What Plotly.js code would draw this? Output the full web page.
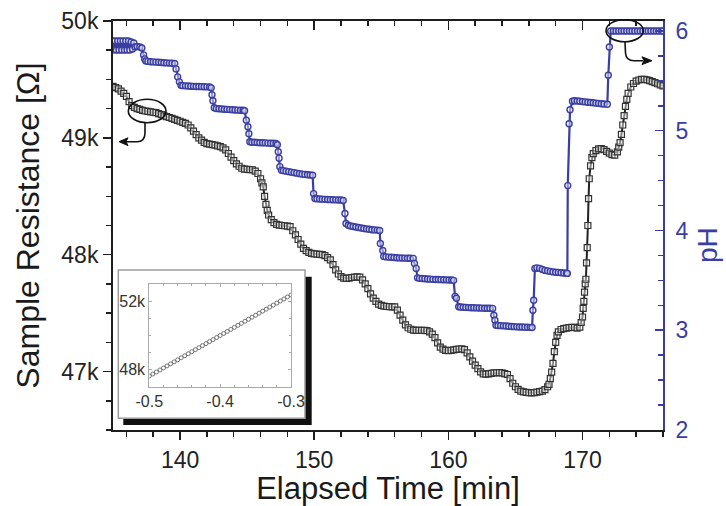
<!DOCTYPE html>
<html>
<head>
<meta charset="utf-8">
<script src="https://cdn.plot.ly/plotly-3.0.1.min.js"></script>
<style>html,body{margin:0;padding:0;background:#fff}#chart{width:726px;height:506px}</style>
</head>
<body>
<div id="chart"></div>
<script>
// ---- Data ----
// Elapsed time [min] for the resistance series
const timeRes = [
135.0,135.2,135.4,135.6,135.8,136.0,136.2,136.4,136.6,136.8,
137.0,137.2,137.4,137.6,137.8,138.0,138.2,138.4,138.6,138.8,
139.0,139.2,139.4,139.6,139.8,140.0,140.2,140.4,140.6,140.8,
141.0,141.2,141.4,141.6,141.8,142.0,142.2,142.4,142.6,142.8,
143.0,143.2,143.4,143.6,143.8,144.0,144.2,144.4,144.6,144.8,
145.0,145.2,145.4,145.6,145.8,146.0,146.1,146.2,146.3,146.4,
146.5,146.6,146.8,147.0,147.2,147.4,147.6,147.8,148.0,148.2,
148.4,148.6,148.8,149.0,149.2,149.4,149.6,149.8,150.0,150.2,
150.4,150.6,150.8,151.0,151.2,151.4,151.6,151.8,152.0,152.2,
152.4,152.6,152.8,153.0,153.2,153.4,153.6,153.8,154.0,154.2,
154.4,154.6,154.8,155.0,155.2,155.4,155.6,155.8,156.0,156.2,
156.4,156.6,156.8,157.0,157.2,157.4,157.6,157.8,158.0,158.2,
158.4,158.6,158.8,159.0,159.2,159.4,159.6,159.8,160.0,160.2,
160.4,160.6,160.8,161.0,161.2,161.4,161.6,161.8,162.0,162.2,
162.4,162.6,162.8,163.0,163.2,163.4,163.6,163.8,164.0,164.2,
164.4,164.6,164.8,165.0,165.2,165.4,165.6,165.8,166.0,166.2,
166.4,166.6,166.8,167.0,167.2,167.4,167.5,167.6,167.7,167.8,
167.9,168.0,168.1,168.2,168.4,168.6,168.8,169.0,169.2,169.4,
169.6,169.8,169.9,170.0,170.05,170.1,170.15,170.2,170.25,170.3,
170.35,170.4,170.45,170.5,170.6,170.7,170.8,171.0,171.2,171.4,
171.6,171.8,172.0,172.2,172.4,172.6,172.7,172.8,172.9,173.0,
173.1,173.2,173.3,173.4,173.6,173.8,174.0,174.2,174.4,174.6,
174.8,175.0,175.2,175.4,175.6,175.8,176.0];
// Sample resistance [Ohm]
const resistance = [
49440,49430,49420,49400,49380,49355,49310,49275,49260,49250,
49243,49236,49230,49226,49222,49219,49216,49208,49198,49188,
49182,49174,49166,49158,49150,49142,49133,49124,49110,49085,
49058,49028,49000,48980,48962,48950,48946,48942,48937,48932,
48925,48915,48898,48866,48835,48805,48778,48757,48740,48733,
48731,48729,48727,48715,48695,48650,48615,48580,48500,48430,
48380,48340,48300,48275,48260,48254,48250,48248,48245,48240,
48205,48170,48130,48090,48055,48035,48020,48012,48008,48005,
48003,48000,47993,47975,47955,47915,47870,47835,47812,47800,
47798,47800,47805,47808,47810,47808,47785,47750,47710,47665,
47628,47600,47578,47566,47560,47557,47555,47554,47553,47525,
47483,47440,47400,47375,47362,47355,47352,47352,47352,47352,
47350,47340,47320,47290,47245,47210,47192,47182,47180,47182,
47185,47190,47193,47195,47188,47160,47125,47090,47055,47025,
46998,46980,46978,46980,46984,46988,46990,46991,46988,46983,
46975,46940,46900,46870,46848,46833,46826,46822,46819,46818,
46820,46824,46828,46832,46845,46870,46891,46940,46995,47070,
47170,47250,47310,47340,47360,47367,47372,47376,47378,47378,
47372,47380,47420,47467,47540,47600,47680,47750,47790,47930,
48060,48250,48480,48650,48760,48830,48865,48890,48905,48908,
48900,48885,48870,48856,48852,48880,48920,48960,49030,49110,
49190,49270,49330,49380,49435,49465,49485,49495,49500,49500,
49496,49490,49482,49472,49463,49453,49445];

// Elapsed time [min] for the pH series
const timePH = [
134.95,135.05,135.15,135.25,135.35,135.45,135.55,135.65,135.75,135.85,
135.95,136.05,136.15,136.25,136.35,136.45,136.55,136.65,136.8,137.0,
137.15,137.28,137.36,137.45,137.6,137.8,138.0,138.2,138.4,138.6,
138.8,139.0,139.2,139.4,139.6,139.7,139.82,139.95,140.07,140.2,
140.4,140.6,140.8,141.0,141.2,141.4,141.6,141.8,142.0,142.2,
142.32,142.38,142.45,142.55,142.7,142.9,143.1,143.3,143.5,143.7,
143.9,144.1,144.3,144.5,144.7,144.81,144.94,145.06,145.13,145.2,
145.35,145.55,145.75,145.95,146.15,146.35,146.55,146.75,146.95,147.15,
147.25,147.32,147.38,147.44,147.56,147.7,147.9,148.1,148.3,148.5,
148.7,148.9,149.1,149.3,149.5,149.7,149.88,149.95,150.05,150.2,
150.4,150.6,150.8,151.0,151.2,151.4,151.6,151.8,152.0,152.16,
152.29,152.37,152.54,152.7,152.9,153.1,153.3,153.5,153.7,153.9,
154.1,154.3,154.5,154.7,154.88,154.93,155.11,155.18,155.35,155.55,
155.75,155.95,156.15,156.35,156.55,156.75,156.95,157.15,157.38,157.47,
157.6,157.7,157.85,158.05,158.25,158.45,158.65,158.85,159.05,159.25,
159.45,159.65,159.85,160.05,160.25,160.39,160.5,160.6,160.77,160.9,
161.1,161.3,161.5,161.7,161.9,162.1,162.3,162.5,162.7,162.9,
163.1,163.3,163.39,163.47,163.55,163.7,163.9,164.1,164.3,164.5,
164.7,164.9,165.1,165.3,165.5,165.7,165.9,166.1,166.24,166.3,
166.36,166.45,166.6,166.8,167.0,167.2,167.4,167.6,167.8,168.0,
168.2,168.4,168.6,168.8,168.87,168.9,169.0,169.07,169.25,169.4,
169.6,169.8,170.0,170.2,170.4,170.6,170.8,171.0,171.2,171.4,
171.6,171.85,171.92,172.0,172.1,172.3,172.5,172.7,172.9,173.1,
173.3,173.5,173.7,173.9,174.1,174.3,174.5,174.7,174.9,175.1,
175.3,175.5,175.7,175.9,176.0];
// pH values
const pHvalues = [
5.90,5.81,5.90,5.81,5.90,5.81,5.90,5.81,5.90,5.81,
5.90,5.81,5.90,5.81,5.89,5.82,5.88,5.84,5.845,5.84,
5.83,5.76,5.72,5.70,5.695,5.692,5.69,5.688,5.686,5.684,
5.682,5.68,5.678,5.676,5.674,5.62,5.54,5.49,5.455,5.452,
5.45,5.448,5.446,5.445,5.444,5.443,5.442,5.441,5.44,5.439,
5.43,5.36,5.30,5.23,5.222,5.22,5.218,5.216,5.214,5.212,
5.21,5.208,5.207,5.206,5.205,5.20,5.105,5.04,4.97,4.89,
4.885,4.884,4.882,4.88,4.879,4.878,4.876,4.875,4.874,4.872,
4.86,4.79,4.725,4.64,4.605,4.60,4.595,4.59,4.585,4.58,
4.575,4.57,4.565,4.562,4.558,4.556,4.554,4.37,4.32,4.318,
4.316,4.314,4.312,4.31,4.309,4.308,4.307,4.306,4.305,4.30,
4.17,4.07,4.053,4.045,4.04,4.035,4.03,4.025,4.02,4.016,
4.012,4.008,4.006,4.004,4.0,3.87,3.80,3.74,3.735,3.733,
3.731,3.729,3.727,3.725,3.724,3.723,3.722,3.721,3.72,3.67,
3.62,3.525,3.52,3.518,3.516,3.514,3.512,3.51,3.509,3.508,
3.507,3.506,3.505,3.504,3.503,3.50,3.34,3.32,3.235,3.233,
3.231,3.229,3.227,3.226,3.225,3.224,3.223,3.222,3.221,3.22,
3.22,3.219,3.15,3.10,3.05,3.048,3.046,3.044,3.042,3.04,
3.038,3.036,3.034,3.033,3.032,3.031,3.03,3.029,3.028,3.20,
3.30,3.62,3.625,3.62,3.61,3.60,3.595,3.59,3.585,3.582,
3.58,3.577,3.574,3.572,3.57,4.45,5.07,5.21,5.295,5.30,
5.298,5.295,5.292,5.289,5.286,5.283,5.28,5.277,5.274,5.271,
5.268,5.265,5.556,5.84,6.0,6.0,6.0,6.0,6.0,6.0,
6.0,6.0,6.0,6.0,6.0,6.0,6.0,6.0,6.0,6.0,
6.0,6.0,6.0,6.0,6.0];

// Inset: x values and resistance
const insetX = [
-0.5,-0.495,-0.49,-0.485,-0.48,-0.475,-0.47,-0.465,-0.46,-0.455,
-0.45,-0.445,-0.44,-0.435,-0.43,-0.425,-0.42,-0.415,-0.41,-0.405,
-0.4,-0.395,-0.39,-0.385,-0.38,-0.375,-0.37,-0.365,-0.36,-0.355,
-0.35,-0.345,-0.34,-0.335,-0.33,-0.325,-0.32,-0.315,-0.31,-0.305,-0.3];
const insetR = [
47600,47720,47840,47960,48080,48200,48320,48440,48560,48680,
48800,48920,49040,49160,49280,49400,49520,49640,49760,49880,
50000,50120,50240,50360,50480,50600,50720,50840,50960,51080,
51200,51320,51440,51560,51680,51800,51920,52040,52160,52280,52400];

const insetXTicks = [-0.5, -0.4, -0.3];
const insetXTickText = ['-0.5', '-0.4', '-0.3'];
const insetYTicks = [48000, 52000];

// ---- Styling ----
const BLUE = '#3a3ea2';
const INK = '#1e1e1e';
const FONT = 'Liberation Sans, Arial, Helvetica, sans-serif';

// plot-area pixel frame (for decorations only)
const PL = 113, PR = 663, PT = 21, PB = 430;
const px = x => (x - PL) / (PR - PL);
const py = y => (PB - y) / (PB - PT);

const traces = [
  {
    x: timePH, y: pHvalues, yaxis: 'y2', xaxis: 'x',
    mode: 'lines+markers', hoverinfo: 'skip',
    line: {color: BLUE, width: 2.2},
    marker: {symbol: 'circle', size: 6, color: 'rgba(255,255,255,0.45)', line: {color: BLUE, width: 1.4}}
  },
  {
    x: timeRes, y: resistance, xaxis: 'x', yaxis: 'y',
    mode: 'lines+markers', hoverinfo: 'skip',
    line: {color: '#222', width: 2},
    marker: {symbol: 'square', size: 6, color: 'rgba(255,255,255,0.45)', line: {color: '#333', width: 1.2}}
  },
  {
    x: insetX, y: insetR, xaxis: 'x3', yaxis: 'y3',
    mode: 'markers', hoverinfo: 'skip',
    marker: {symbol: 'circle-open', size: 4, color: '#666', line: {width: 0.9}}
  },
  { x: [], y: [], xaxis: 'x2', yaxis: 'y', mode: 'markers', hoverinfo: 'skip' }
];

function qPath(seg) {
  return seg.map(c => {
    const coords = [];
    for (let i = 1; i < c.length; i += 2) coords.push(px(c[i]) + ',' + py(c[i + 1]));
    return c[0] + ' ' + coords.join(' ');
  }).join(' ');
}

const shapes = [
  {type: 'rect', xref: 'paper', yref: 'paper', layer: 'below',
   x0: px(123.3), x1: px(311.7), y0: py(425), y1: py(276.7),
   fillcolor: '#111', line: {width: 0}},
  {type: 'rect', xref: 'paper', yref: 'paper', layer: 'below',
   x0: px(118.3), x1: px(305), y0: py(418.3), y1: py(270),
   fillcolor: '#ffffff', line: {color: '#9c9c9c', width: 1.5}},
  {type: 'circle', xref: 'paper', yref: 'paper',
   x0: px(128.3), x1: px(166), y0: py(122.7), y1: py(99.3),
   line: {color: '#111', width: 1.6}},
  {type: 'path', xref: 'paper', yref: 'paper',
   path: qPath([['M', 145, 122], ['L', 145, 133], ['Q', 145, 141.7, 137, 141.7], ['L', 126, 141.7]]),
   line: {color: '#111', width: 1.6}},
  {type: 'path', xref: 'paper', yref: 'paper',
   path: qPath([['M', 119, 141.7], ['L', 128, 137.8], ['L', 126, 141.7], ['L', 128, 145.6], ['Z']]),
   fillcolor: '#111', line: {color: '#111', width: 1}},
  {type: 'circle', xref: 'paper', yref: 'paper',
   x0: px(606), x1: px(643.3), y0: py(41.7), y1: py(19.7),
   line: {color: '#111', width: 1.6}},
  {type: 'path', xref: 'paper', yref: 'paper',
   path: qPath([['M', 625, 42], ['L', 625.5, 53], ['Q', 626, 60.7, 634, 60.7], ['L', 643, 60.7]]),
   line: {color: '#111', width: 1.6}},
  {type: 'path', xref: 'paper', yref: 'paper',
   path: qPath([['M', 652, 60.7], ['L', 642, 56.8], ['L', 644, 60.7], ['L', 642, 64.6], ['Z']]),
   fillcolor: '#111', line: {color: '#111', width: 1}}
];

const axisCommon = {showgrid: false, zeroline: false, showline: true};

const layout = {
  width: 726, height: 506,
  margin: {l: PL, r: 726 - PR, t: PT, b: 506 - PB, pad: 0},
  paper_bgcolor: '#ffffff', plot_bgcolor: 'rgba(0,0,0,0)',
  showlegend: false,
  font: {family: FONT, color: INK},
  xaxis: Object.assign({}, axisCommon, {
    range: [135, 176], tickmode: 'linear', tick0: 0, dtick: 10,
    ticks: 'outside', ticklen: 8, tickwidth: 1.5, tickcolor: INK,
    linecolor: INK, linewidth: 2,
    minor: {tickmode: 'linear', tick0: 0, dtick: 2, ticks: 'outside', ticklen: 5, tickwidth: 1.5, tickcolor: INK},
    tickfont: {size: 23, color: '#222', family: FONT},
    title: {text: 'Elapsed Time [min]', font: {size: 31, color: '#1a1a1a', family: FONT}, standoff: 6}
  }),
  xaxis2: Object.assign({}, axisCommon, {
    overlaying: 'x', side: 'top', anchor: 'y',
    range: [135, 176], tickmode: 'linear', tick0: 0, dtick: 10,
    ticks: 'inside', ticklen: 9, tickwidth: 1.5, tickcolor: INK,
    linecolor: INK, linewidth: 2, showticklabels: false,
    minor: {tickmode: 'linear', tick0: 0, dtick: 2, ticks: 'inside', ticklen: 5, tickwidth: 1.5, tickcolor: INK}
  }),
  yaxis: Object.assign({}, axisCommon, {
    range: [46500, 50000], tickmode: 'linear', tick0: 0, dtick: 1000, tickformat: '~s',
    ticks: 'outside', ticklen: 8, tickwidth: 1.5, tickcolor: INK,
    linecolor: INK, linewidth: 2,
    minor: {tickmode: 'linear', tick0: 0, dtick: 250, ticks: 'outside', ticklen: 5, tickwidth: 1.5, tickcolor: INK},
    tickfont: {size: 23, color: '#222', family: FONT},
    title: {text: 'Sample Resistance [Ω]', font: {size: 32, color: '#1a1a1a', family: FONT}, standoff: 12}
  }),
  yaxis2: Object.assign({}, axisCommon, {
    overlaying: 'y', side: 'right', anchor: 'x',
    range: [2, 6.1], tickmode: 'linear', tick0: 0, dtick: 1,
    ticks: 'inside', ticklen: 8, tickwidth: 1.5, tickcolor: BLUE,
    linecolor: BLUE, linewidth: 2, ticklabelstandoff: 6,
    minor: {tickmode: 'linear', tick0: 0, dtick: 0.25, ticks: 'inside', ticklen: 5, tickwidth: 1.5, tickcolor: BLUE},
    tickfont: {size: 23, color: BLUE, family: FONT}
  }),
  xaxis3: Object.assign({}, axisCommon, {
    domain: [px(149.3), px(291)], anchor: 'y3',
    range: [-0.5, -0.3], tickmode: 'array', tickvals: insetXTicks, ticktext: insetXTickText,
    mirror: 'ticks', linecolor: '#aaa', linewidth: 1,
    ticks: 'inside', ticklen: 3, tickwidth: 1, tickcolor: '#aaa',
    minor: {tickmode: 'linear', tick0: 0, dtick: 0.02, ticks: 'inside', ticklen: 2, tickwidth: 1, tickcolor: '#aaa'},
    tickfont: {size: 16, color: '#333', family: FONT}
  }),
  yaxis3: Object.assign({}, axisCommon, {
    domain: [py(386.7), py(284.3)], anchor: 'x3',
    range: [46970, 53030], tickmode: 'array', tickvals: insetYTicks, tickformat: '~s',
    mirror: 'ticks', linecolor: '#aaa', linewidth: 1,
    ticks: 'inside', ticklen: 3, tickwidth: 1, tickcolor: '#aaa',
    minor: {tickmode: 'linear', tick0: 0, dtick: 1000, ticks: 'inside', ticklen: 2, tickwidth: 1, tickcolor: '#aaa'},
    tickfont: {size: 16, color: '#333', family: FONT}
  }),
  annotations: [
    {text: 'pH', xref: 'paper', yref: 'paper', x: px(707), y: py(245),
     xanchor: 'center', yanchor: 'middle', textangle: -90, showarrow: false,
     font: {size: 28, color: BLUE, family: FONT}}
  ],
  shapes: shapes
};

Plotly.newPlot('chart', traces, layout, {staticPlot: true, displayModeBar: false});
</script>
</body>
</html>
